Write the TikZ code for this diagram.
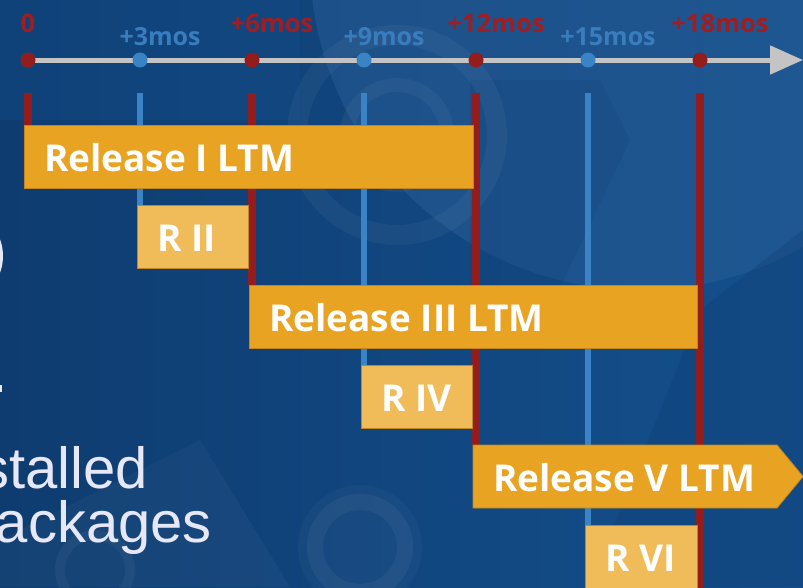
\documentclass[tikz,border=0pt]{standalone}
\usepackage{fontspec}
\setmainfont{Open Sans}
\newfontfamily\lsans{Liberation Sans}
\usetikzlibrary{arrows.meta,calc}
\definecolor{bgnavy}{HTML}{0E3C70}
\definecolor{bgmid}{HTML}{14508D}
\definecolor{bglight}{HTML}{2C6099}
\definecolor{ltmcol}{HTML}{E8A323}
\definecolor{shortcol}{HTML}{F0BC5A}
\definecolor{baredge}{HTML}{C4861C}
\definecolor{redcol}{HTML}{931C1C}
\definecolor{redtext}{HTML}{A01E22}
\definecolor{bluecol}{HTML}{3A84C6}
\definecolor{bluetext}{HTML}{3A7DBE}
\definecolor{axisgrey}{HTML}{C4C4C4}
\definecolor{paletext}{HTML}{E6E8F8}
\begin{document}
\begin{tikzpicture}[x=1pt,y=-1pt,
  ltmbar/.style={rectangle,inner sep=0pt,fill=ltmcol,draw=baredge,line width=0.8pt,minimum height=63pt},
  shortbar/.style={rectangle,inner sep=0pt,fill=shortcol,draw=baredge,line width=0.8pt,minimum height=63pt,minimum width=111pt},
  bartext/.style={inner sep=0pt,text=white,font=\bfseries\fontsize{37}{40}\selectfont},
  redtick/.style={draw=redcol,line width=7.5pt},
  bluetick/.style={draw=bluecol,line width=6.5pt},
  reddot/.style={circle,inner sep=0pt,minimum size=15pt,fill=redcol},
  bluedot/.style={circle,inner sep=0pt,minimum size=15pt,fill=bluecol},
  redlabel/.style={inner sep=0pt,text=redtext,font=\bfseries\fontsize{25.5}{28}\selectfont},
  bluelabel/.style={inner sep=0pt,text=bluetext,font=\bfseries\fontsize{25}{28}\selectfont},
  sidetext/.style={inner sep=0pt,text=paletext,font=\lsans\fontsize{58}{62}\selectfont},
  swirl/.style={draw=white,opacity=0.045}]
\useasboundingbox (0,0) rectangle (803,587);
\clip (0,0) rectangle (803,587);

% background with soft swirls
\shade[left color=bgnavy,right color=bgmid] (0,0) rectangle (803,587);
\fill[bglight,opacity=0.45] (640,-40) circle[radius=330];
\fill[bgnavy,opacity=0.3] (803,230) -- (700,310) -- (590,587) -- (803,587) -- cycle;
\fill[bgnavy,opacity=0.2] (470,80) -- (600,80) -- (630,140) -- (540,330) -- (470,330) -- cycle;
\fill[bgmid,opacity=0.3] (0,0) rectangle (300,120);
\draw[swirl,line width=20pt] (397,135) circle[radius=100];
\draw[swirl,line width=14pt] (397,135) circle[radius=50];
\draw[swirl,line width=16pt] (360,547) circle[radius=45];
\fill[white,opacity=0.03] (360,547) circle[radius=62];
\draw[swirl,line width=10pt] (95,570) circle[radius=35];
\fill[white,opacity=0.03] (0,587) -- (0,540) -- (200,440) -- (290,587) -- cycle;

% fragments of the heading cut by the left edge
\fill[paletext] (-30,256) ellipse[x radius=33,y radius=40];
\fill[paletext] (0,385) rectangle (1.5,392);
\node[sidetext,anchor=base east] (inst) at (148,488) {stalled};
\node[sidetext,anchor=base east] (pkgs) at (212,542) {ackages};

% tick tops under the axis
\foreach \n/\x in {0/28,3/140,6/252,9/364,12/476,15/588,18/700}
  \coordinate (t\n) at (\x,93);

% release bar outlines, placed first so the ticks can end on them
\node[ltmbar,minimum width=449pt,anchor=north west] (r1) at (24,125) {};
\node[shortbar,anchor=north west] (r2) at (137,205) {};
\node[ltmbar,minimum width=448pt,anchor=north west] (r3) at (249,285) {};
\node[shortbar,anchor=north west] (r4) at (361,365) {};
\coordinate (r5) at (473,445);
\node[shortbar,minimum width=112pt,anchor=north west] (r6) at (585,525) {};

% ticks
\draw[redtick] (t0) -- (t0 |- r1.north);
\draw[bluetick] (t3) -- (t3 |- r2.north);
\draw[redtick] (t6) -- (t6 |- r3.north);
\draw[bluetick] (t9) -- (t9 |- r4.north);
\draw[redtick] (t12) -- (t12 |- r5);
\draw[bluetick] (t15) -- (t15 |- r6.north);
\draw[redtick] (t18) -- (700,588);

% bars again on top of the ticks
\node[ltmbar,minimum width=449pt,anchor=north west] at (r1.north west) {};
\node[shortbar,anchor=north west] at (r2.north west) {};
\node[ltmbar,minimum width=448pt,anchor=north west] at (r3.north west) {};
\node[shortbar,anchor=north west] at (r4.north west) {};
\fill[ltmcol,draw=baredge,line width=0.8pt] (r5) -- ++(304,0) -- ++(26,31.5) -- ++(-26,31.5) -- ++(-304,0) -- cycle;
\node[shortbar,minimum width=112pt,anchor=north west] at (r6.north west) {};

\node[bartext,anchor=base west] (r1t) at ($(r1.north west)+(20,46.5)$) {Release I LTM};
\node[bartext,anchor=base west] (r2t) at ($(r2.north west)+(20,46.5)$) {R II};
\node[bartext,anchor=base west] (r3t) at ($(r3.north west)+(20,46.5)$) {Release III LTM};
\node[bartext,anchor=base west] (r4t) at ($(r4.north west)+(20,46.5)$) {R IV};
\node[bartext,anchor=base west] (r5t) at ($(r5)+(20,46.5)$) {Release V LTM};
\node[bartext,anchor=base west] (r6t) at ($(r6.north west)+(20,46.5)$) {R VI};

% time axis
\coordinate (axstart) at (28,60);
\coordinate (axend) at (803,60);
\draw[axisgrey,line width=5pt,-{Triangle[length=33pt,width=28pt]}] (axstart) -- (axend);
\node[reddot] (d0) at (28,60) {};
\node[bluedot] (d3) at (140,60) {};
\node[reddot] (d6) at (252,60) {};
\node[bluedot] (d9) at (364,60) {};
\node[reddot] (d12) at (476,60) {};
\node[bluedot] (d15) at (588,60) {};
\node[reddot] (d18) at (700,60) {};

\node[redlabel,anchor=base] (l0) at (28,32) {0};
\node[bluelabel,anchor=base] (l3) at (160,45) {+3mos};
\node[redlabel,anchor=base] (l6) at (272,32) {+6mos};
\node[bluelabel,anchor=base] (l9) at (384,45) {+9mos};
\node[redlabel,anchor=base] (l12) at (496,32) {+12mos};
\node[bluelabel,anchor=base] (l15) at (608,45) {+15mos};
\node[redlabel,anchor=base] (l18) at (720,32) {+18mos};
\end{tikzpicture}
\end{document}
